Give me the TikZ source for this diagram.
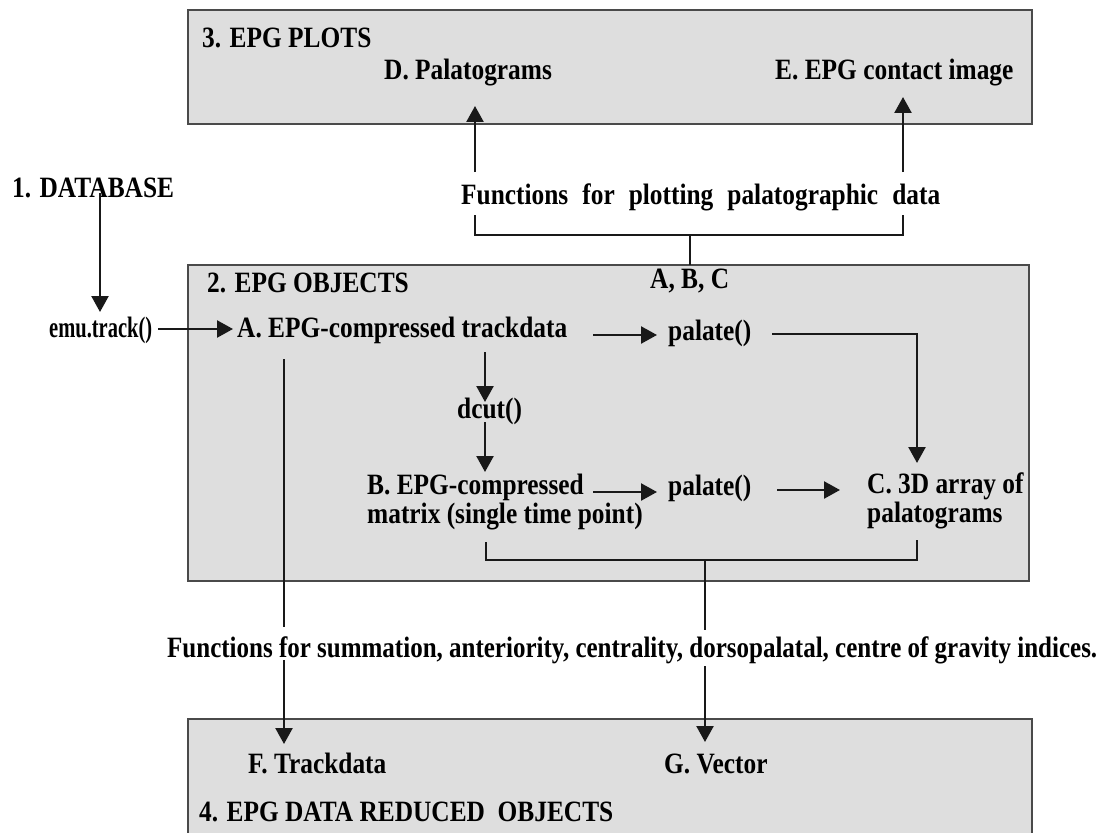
\documentclass[tikz,border=0pt]{standalone}
\usepackage{fontspec}
\setmainfont{Liberation Serif}[FakeStretch=0.86]
\usetikzlibrary{arrows.meta}
\definecolor{boxfill}{HTML}{DEDEDE}
\definecolor{boxline}{HTML}{4A4A4A}
\begin{document}
\begin{tikzpicture}[x=1pt,y=-1pt,
  box/.style={draw=boxline, line width=1.4pt, fill=boxfill},
  txt/.style={inner sep=0pt, anchor=base west, font=\fontsize{29.5}{28.5}\selectfont\bfseries, align=left},
  conn/.style={line width=2.4pt, draw=black!90},
  arr/.style={conn, -{Triangle[length=16pt,width=17pt]}},
]
\useasboundingbox (0,0) rectangle (1102,832);
\clip (0,0) rectangle (1102,832);
\fill[white] (0,0) rectangle (1102,832);

% boxes
\draw[box] (188,10) rectangle (1032,124);
\draw[box] (188,265) rectangle (1029,581);
\draw[box] (188,719) rectangle (1032,845);

% texts
\node[txt] (t3) at (202,48) {3. EPG PLOTS};
\node[txt] (D) at (384,80) {D. Palatograms};
\node[txt] (E) at (775,80) {E. EPG contact image};
\node[txt] (plotfn) at (461,204) {\makebox[479pt][s]{Functions for plotting palatographic data}};
\node[txt] (abc) at (650,288) {A, B, C};
\node[txt] (db) at (12,197) {1. DATABASE};
\node[txt] (emu) at (49,337) {\resizebox{103pt}{\height}{emu.track()}};
\node[txt] (t2) at (207,292) {2. EPG OBJECTS};
\node[txt] (A) at (237,337) {A. EPG-compressed trackdata};
\node[txt] (pal1) at (668,340) {palate()};
\node[txt] (dcut) at (457,418) {dcut()};
\node[txt] (B) at (367,523) {B. EPG-compressed\\matrix (single time point)};
\node[txt] (pal2) at (668,495) {palate()};
\node[txt] (C) at (867,522) {C. 3D array of\\palatograms};
\node[txt] (sumfn) at (167,657) {\resizebox{930pt}{\height}{Functions for summation, anteriority, centrality, dorsopalatal, centre of gravity indices.}};
\node[txt] (F) at (248,773) {F. Trackdata};
\node[txt] (G) at (664,773) {G. Vector};
\node[txt] (t4) at (199,821) {4. EPG DATA REDUCED\ \ OBJECTS};

% connector end points
\coordinate (dbOut) at (100,193);
\coordinate (emuIn) at (100,312);
\coordinate (emuOut) at (158,329);
\coordinate (aIn) at (233,329);
\coordinate (aOut) at (593,335);
\coordinate (pal1In) at (657,335);
\coordinate (pal1Out) at (772,334);
\coordinate (cTop) at (917,463);
\coordinate (aDown) at (485,352);
\coordinate (dcutIn) at (485,402);
\coordinate (dcutOut) at (485,422);
\coordinate (bIn) at (485,472);
\coordinate (bOut) at (593,492);
\coordinate (pal2In) at (657,492);
\coordinate (pal2Out) at (777,490);
\coordinate (cIn) at (840,490);
\coordinate (bBot) at (486,542);
\coordinate (cBot) at (917,540);
\coordinate (bcJoin) at (705,560);
\coordinate (sumTopR) at (705,630);
\coordinate (sumBotR) at (705,666);
\coordinate (gIn) at (705,742);
\coordinate (aLeft) at (284,359);
\coordinate (sumTopL) at (284,627);
\coordinate (sumBotL) at (284,660);
\coordinate (fIn) at (284,744);
\coordinate (plotL) at (475,215);
\coordinate (plotR) at (903,215);
\coordinate (plotJoin) at (690,235);
\coordinate (abcTop) at (690,265);
\coordinate (plotOutL) at (475,172);
\coordinate (dIn) at (475,106);
\coordinate (plotOutR) at (903,172);
\coordinate (eIn) at (903,97);

% connectors
\draw[arr] (dbOut) -- (emuIn);
\draw[arr] (emuOut) -- (aIn);
\draw[arr] (aOut) -- (pal1In);
\draw[arr] (pal1Out) -| (cTop);
\draw[arr] (aDown) -- (dcutIn);
\draw[arr] (dcutOut) -- (bIn);
\draw[arr] (bOut) -- (pal2In);
\draw[arr] (pal2Out) -- (cIn);
\draw[conn] (bBot) |- (bcJoin) -| (cBot);
\draw[conn] (bcJoin) -- (sumTopR);
\draw[arr] (sumBotR) -- (gIn);
\draw[conn] (aLeft) -- (sumTopL);
\draw[arr] (sumBotL) -- (fIn);
\draw[conn] (plotL) |- (plotJoin) -| (plotR);
\draw[conn] (plotJoin) -- (abcTop);
\draw[arr] (plotOutL) -- (dIn);
\draw[arr] (plotOutR) -- (eIn);
\end{tikzpicture}
\end{document}
